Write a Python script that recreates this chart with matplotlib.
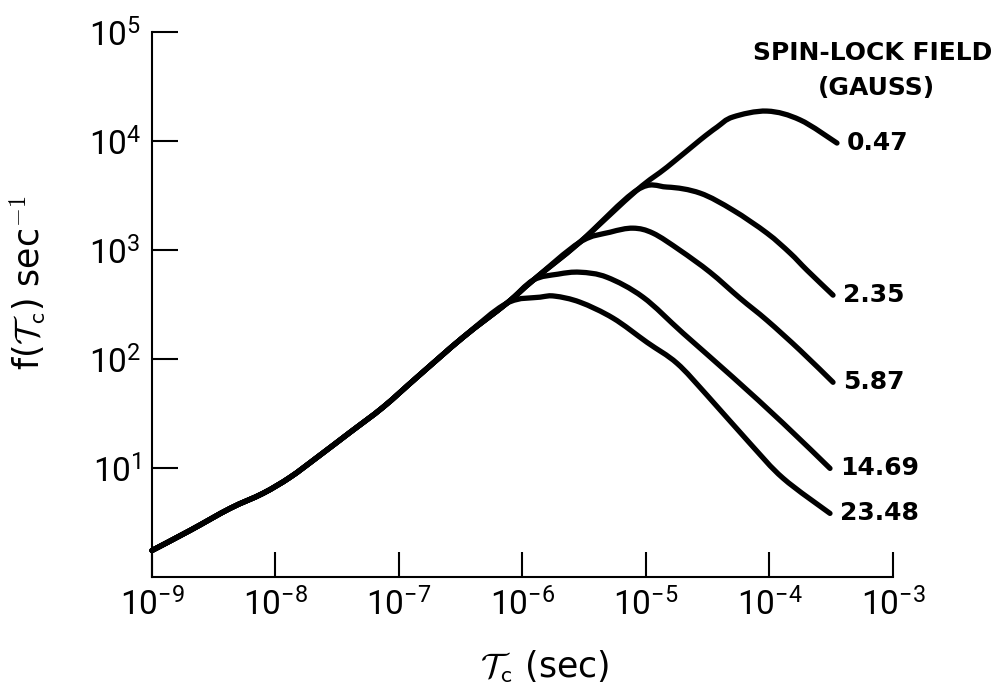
import numpy as np
import matplotlib
matplotlib.use("Agg")
import matplotlib.pyplot as plt
from matplotlib import ticker
from matplotlib.path import Path
from matplotlib.patches import PathPatch

plt.rcParams['mathtext.fontset'] = 'custom'
plt.rcParams['mathtext.rm'] = 'Roboto'
plt.rcParams['mathtext.it'] = 'Roboto:italic'
plt.rcParams['mathtext.bf'] = 'Roboto:bold'

# rising part shared by every curve (tau in sec, f in 1/sec)
common_tau = [1.0e-9, 2.03e-9, 4.29e-9, 7.92e-9, 1.31e-8, 2.17e-8, 4.01e-8, 7.41e-8,
              1.40e-7, 3.30e-7, 7.48e-7, 1.22e-6, 2.92e-6, 8.45e-6, 1.48e-5, 2.74e-5]
common_f = [1.75, 2.67, 4.26, 5.85, 8.2, 12.5, 21.2, 36.0,
            68.0, 158, 325, 528, 1180, 3540, 5750, 10200]

# spin-lock field (gauss) and where each curve leaves the common line
fields = ["0.47", "2.35", "5.87", "14.69", "23.48"]
branch_tau = [2.74e-5, 8.45e-6, 2.92e-6, 1.22e-6, 7.48e-7]

tail_tau_047 = [3.76e-5, 5.06e-5, 9.55e-5, 1.77e-4, 3.52e-4]
tail_f_047 = [13400, 16600, 18800, 15600, 9570]

tail_tau_235 = [1.48e-5, 2.74e-5, 5.06e-5, 9.55e-5, 1.47e-4, 2.01e-4, 3.27e-4]
tail_f_235 = [3776, 3324, 2320, 1426, 935, 653, 385]

tail_tau_587 = [5.12e-6, 7.85e-6, 1.14e-5, 1.88e-5, 3.30e-5, 5.77e-5, 9.55e-5, 1.77e-4, 3.27e-4]
tail_f_587 = [1455, 1585, 1426, 995, 625, 361, 226, 120, 61.1]

tail_tau_1469 = [1.94e-6, 2.92e-6, 4.83e-6, 9.46e-6, 2.00e-5, 5.06e-5, 1.29e-4, 3.09e-4]
tail_f_1469 = [600, 625, 562, 369, 172, 67.9, 25.7, 9.91]

tail_tau_2348 = [1.39e-6, 1.83e-6, 2.92e-6, 5.41e-6, 1.02e-5, 1.78e-5, 3.12e-5, 6.95e-5, 1.29e-4, 3.09e-4]
tail_f_2348 = [369, 377, 332, 237, 142, 91.4, 46.5, 16.8, 8.04, 3.83]

tails = [(tail_tau_047, tail_f_047), (tail_tau_235, tail_f_235), (tail_tau_587, tail_f_587),
         (tail_tau_1469, tail_f_1469), (tail_tau_2348, tail_f_2348)]

xticks = [1e-9, 1e-8, 1e-7, 1e-6, 1e-5, 1e-4, 1e-3]
xticklabels = [r'$10^{-9}$', r'$10^{-8}$', r'$10^{-7}$', r'$10^{-6}$', r'$10^{-5}$', r'$10^{-4}$', r'$10^{-3}$']
yticks = [1e1, 1e2, 1e3, 1e4, 1e5]
yticklabels = [r'$10^{1}$', r'$10^{2}$', r'$10^{3}$', r'$10^{4}$', r'$10^{5}$']


def smooth_curve(x, y):
    # Catmull-Rom through the read points, done in log space (the drawn curve is hand-smooth)
    p = np.column_stack([np.log10(x), np.log10(y)])
    n = len(p)
    verts = [p[0]]
    codes = [Path.MOVETO]
    for i in range(n - 1):
        p0 = p[i - 1] if i > 0 else p[i]
        p1, p2 = p[i], p[i + 1]
        p3 = p[i + 2] if i + 2 < n else p[i + 1]
        verts += [p1 + (p2 - p0) / 6, p2 - (p3 - p1) / 6, p2]
        codes += [Path.CURVE4] * 3
    return Path(10 ** np.array(verts), codes)


fig = plt.figure(figsize=(10.02, 6.89), dpi=100)
ax = fig.add_axes([0.1517, 0.1626, 0.7395, 0.791])
ax.set_xscale('log')
ax.set_yscale('log')
ax.set_xlim(1e-9, 1e-3)
ax.set_ylim(1, 1e5)

for name, bt, (tt, tf) in zip(fields, branch_tau, tails):
    k = common_tau.index(bt)
    x = np.array(common_tau[:k + 1] + tt)
    y = np.array(common_f[:k + 1] + tf)
    ax.add_patch(PathPatch(smooth_curve(x, y), fill=False, edgecolor='black', lw=3.8,
                           capstyle='round', joinstyle='round', clip_on=False))
    ax.annotate(name, xy=(x[-1], y[-1]), xytext=(7, 0), textcoords='offset points',
                ha='left', va='center', fontsize=18, fontweight='bold')

fig.text(873 / 1002, 1 - 53 / 689, "SPIN-LOCK FIELD", ha='center', va='center',
         fontsize=18, fontweight='bold')
fig.text(876 / 1002, 1 - 88 / 689, "(GAUSS)", ha='center', va='center',
         fontsize=18, fontweight='bold')

for s in ['top', 'right']:
    ax.spines[s].set_visible(False)
for s in ['left', 'bottom']:
    ax.spines[s].set_linewidth(1.5)

ax.set_xticks(xticks)
ax.set_xticklabels(xticklabels)
ax.set_yticks(yticks)
ax.set_yticklabels(yticklabels)
ax.xaxis.set_minor_locator(ticker.NullLocator())
ax.yaxis.set_minor_locator(ticker.NullLocator())
ax.tick_params(axis='x', direction='in', length=18, width=1.5, labelsize=24, pad=8)
ax.tick_params(axis='y', direction='in', length=19, width=1.5, labelsize=24, pad=8)

ax.set_xlabel(r'$\mathcal{T}_{\mathsf{c}}$ (sec)', fontsize=25, math_fontfamily='cm')
ax.xaxis.set_label_coords(0.53, -0.13)
ax.set_ylabel(r'f($\mathcal{T}_{\mathsf{c}}$) sec$^{\mathsf{-1}}$', fontsize=25, math_fontfamily='cm')
ax.yaxis.set_label_coords(-0.14, 0.54)

fig.savefig("out.png", dpi=100)
